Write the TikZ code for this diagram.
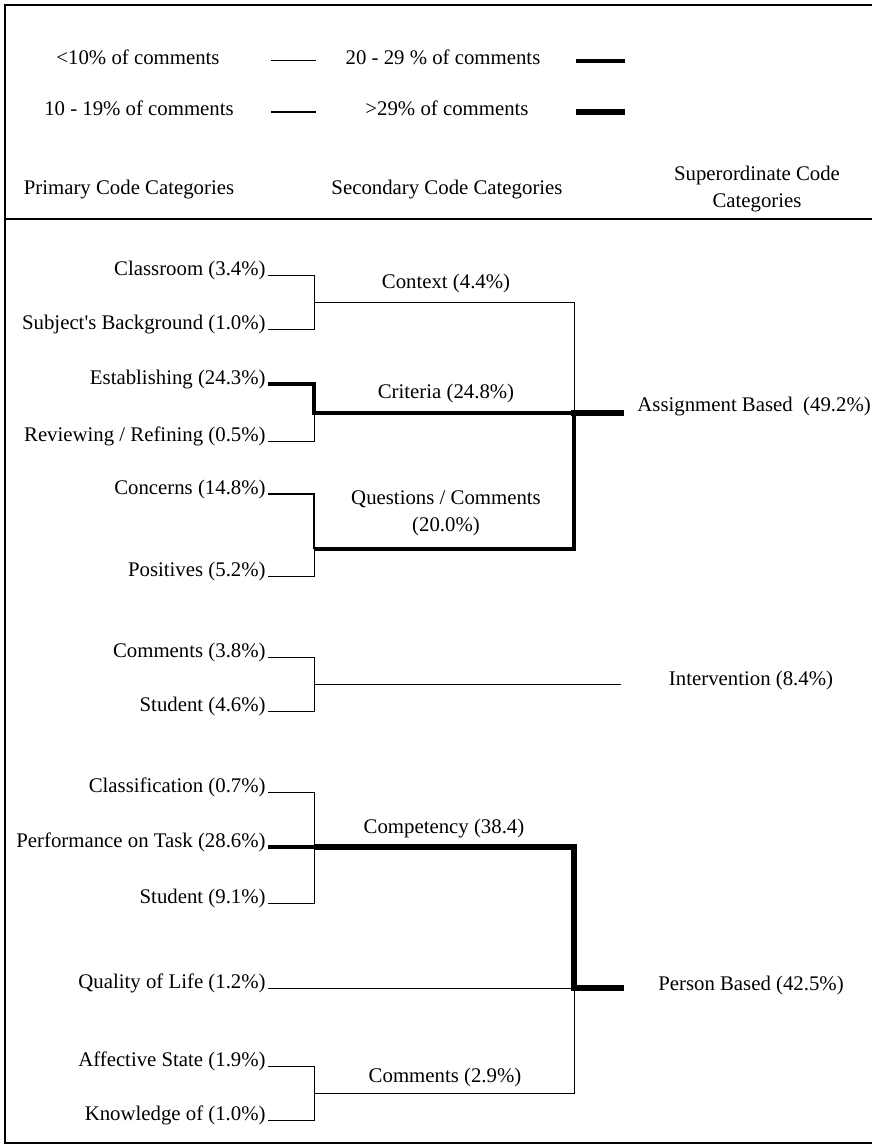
\documentclass[tikz,border=0pt]{standalone}
\usepackage{fontspec}
\setmainfont{Liberation Serif}
\usepackage{tikz}

\begin{document}
\begin{tikzpicture}[x=0.5pt, y=-0.5pt,
    every node/.style={font=\fontsize{10.4}{13.5}\selectfont, inner sep=1pt},
    prim/.style={anchor=base east},
    w1/.style={line width=0.5pt},
    w2/.style={line width=1.1pt},
    w3/.style={line width=1.8pt},
    w4/.style={line width=2.6pt}]
\useasboundingbox (0,0) rectangle (872,1145);
\draw[line width=1pt] (872,5) -- (5,5) -- (5,1143) -- (872,1143);
\draw[line width=1pt] (5,219) -- (872,219);

% legend
\node (leg1) at (138,57) {<10\% of comments};
\node (leg2) at (139,108) {10 - 19\% of comments};
\node (leg3) at (443,57) {20 - 29 \% of comments};
\node (leg4) at (447,108) {>29\% of comments};
\coordinate (s1a) at (271,61);  \coordinate (s1b) at (316,61);
\coordinate (s2a) at (271,112); \coordinate (s2b) at (316,112);
\coordinate (s3a) at (576,61);  \coordinate (s3b) at (625,61);
\coordinate (s4a) at (576,112); \coordinate (s4b) at (625,112);
\draw[w1] (s1a) -- (s1b);
\draw[w2] (s2a) -- (s2b);
\draw[w3] (s3a) -- (s3b);
\draw[w4] (s4a) -- (s4b);

\node (hprim) at (129,190) {Primary Code Categories};
\node (hsec) at (447,190) {Secondary Code Categories};
\node[align=center] (hsup) at (757,189) {Superordinate Code\\Categories};

% primary codes
\node[prim] (classroom) at (268,275) {Classroom (3.4\%)};
\node[prim] (subjbg) at (268,329) {Subject\textquotesingle s Background (1.0\%)};
\node[prim] (establish) at (268,384) {Establishing (24.3\%)};
\node[prim] (review) at (268,441) {Reviewing / Refining (0.5\%)};
\node[prim] (concerns) at (268,494) {Concerns (14.8\%)};
\node[prim] (positives) at (268,576) {Positives (5.2\%)};
\node[prim] (comm1) at (268,657) {Comments (3.8\%)};
\node[prim] (student1) at (268,711) {Student (4.6\%)};
\node[prim] (classif) at (268,792) {Classification (0.7\%)};
\node[prim] (perform) at (268,847) {Performance on Task (28.6\%)};
\node[prim] (student2) at (268,903) {Student (9.1\%)};
\node[prim] (qol) at (268,988) {Quality of Life (1.2\%)};
\node[prim] (affect) at (268,1066) {Affective State (1.9\%)};
\node[prim] (knowl) at (268,1120) {Knowledge of (1.0\%)};

% secondary codes
\node (context) at (446,283) {Context (4.4\%)};
\node (criteria) at (446,393) {Criteria (24.8\%)};
\node[align=center] (questions) at (446,513) {Questions / Comments\\(20.0\%)};
\node (competency) at (444,829) {Competency (38.4)};
\node (comm2) at (445,1077) {Comments (2.9\%)};

% superordinate codes
\node[anchor=west] (assign) at (635,407) {Assignment Based \ (49.2\%)};
\node (interv) at (751,680) {Intervention (8.4\%)};
\node (person) at (751,985) {Person Based (42.5\%)};

\coordinate (jctx) at (314,302);
\coordinate (jcrit) at (314,413);
\coordinate (jqc) at (314,549);
\coordinate (jasg) at (574,413);
\coordinate (easg) at (621,413);
\coordinate (jint) at (314,684);
\coordinate (eint) at (621,684);
\coordinate (jcomp) at (314,847);
\coordinate (jcm) at (314,1093);
\coordinate (jper) at (574,988);
\coordinate (eper) at (621,988);

\draw[w1] (classroom.base east) -| (jctx);
\draw[w1] (subjbg.base east) -| (jctx);
\draw[w1] (jctx) -| (jasg);
\draw[w1] (review.base east) -| (jcrit);
\draw[w1] (positives.base east) -| (jqc);
\draw[w1] (comm1.base east) -| (jint);
\draw[w1] (student1.base east) -| (jint);
\draw[w1] (jint) -- (eint);
\draw[w1] (classif.base east) -| (jcomp);
\draw[w1] (student2.base east) -| (jcomp);
\draw[w1] (qol.base east) -- (jper);
\draw[w1] (affect.base east) -| (jcm);
\draw[w1] (knowl.base east) -| (jcm);
\draw[w1] (jcm) -| (jper);
\draw[w2] (concerns.base east) -| (jqc);
\draw[w3] (establish.base east) -| (jcrit) -- (jasg);
\draw[w3] (jqc) -| (jasg);
\draw[w3] (perform.base east) -- (jcomp);
\draw[w4] (jcomp) -| (jper);
\draw[w4, line cap=rect] (jasg) -- (easg);
\draw[w4, line cap=rect] (jper) -- (eper);
\end{tikzpicture}
\end{document}
